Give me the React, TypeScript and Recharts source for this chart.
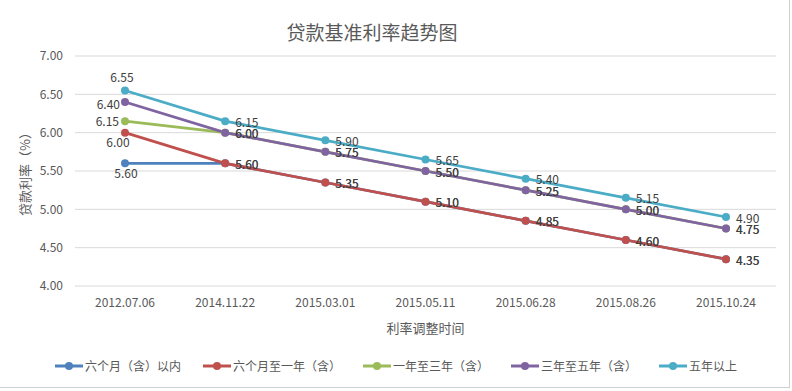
import React from "react";
import {
  LineChart,
  Line,
  XAxis,
  YAxis,
  CartesianGrid,
  Legend,
  LabelList,
} from "recharts";

const categories = [
  "2012.07.06",
  "2014.11.22",
  "2015.03.01",
  "2015.05.11",
  "2015.06.28",
  "2015.08.26",
  "2015.10.24",
];
const withinSixMonths = [5.6, 5.6, 5.35, 5.1, 4.85, 4.6, 4.35];
const sixMonthsToOneYear = [6.0, 5.6, 5.35, 5.1, 4.85, 4.6, 4.35];
const oneToThreeYears = [6.15, 6.0, 5.75, 5.5, 5.25, 5.0, 4.75];
const threeToFiveYears = [6.4, 6.0, 5.75, 5.5, 5.25, 5.0, 4.75];
const overFiveYears = [6.55, 6.15, 5.9, 5.65, 5.4, 5.15, 4.9];
const seriesNames = [
  "六个月（含）以内",
  "六个月至一年（含）",
  "一年至三年（含）",
  "三年至五年（含）",
  "五年以上",
];
const yTicks = [4.0, 4.5, 5.0, 5.5, 6.0, 6.5, 7.0];

const seriesValues = [
  withinSixMonths,
  sixMonthsToOneYear,
  oneToThreeYears,
  threeToFiveYears,
  overFiveYears,
];
const colors = ["#4F81BD", "#C0504D", "#9BBB59", "#8064A2", "#4BACC6"];
const FONT = "'Noto Sans CJK SC', 'Noto Sans', sans-serif";

const data = categories.map((date, i) => {
  const row: any = { date };
  seriesValues.forEach((vals, s) => {
    row["s" + s] = vals[i];
  });
  return row;
});

// first-point labels sit around the dot, the rest to the right
const firstLabel = [
  { dx: 1, dy: 9, anchor: "middle" },
  { dx: -7, dy: 9, anchor: "middle" },
  { dx: -6, dy: -1, anchor: "end" },
  { dx: -5, dy: 1, anchor: "end" },
  { dx: -3, dy: -14, anchor: "middle" },
];

const makeLabel = (s: number) => (props: any) => {
  const { x, y, value, index } = props;
  let dx = 10;
  let dy = 0;
  let anchor = "start";
  if (index === 0) {
    dx = firstLabel[s].dx;
    dy = firstLabel[s].dy;
    anchor = firstLabel[s].anchor;
  }
  return (
    <text
      x={x + dx}
      y={y + dy}
      textAnchor={anchor as any}
      dominantBaseline="central"
      fontSize={12}
      fontFamily={FONT}
      fill="#404040"
    >
      {Number(value).toFixed(2)}
    </text>
  );
};

const renderLegend = () => (
  <div
    style={{
      display: "flex",
      justifyContent: "center",
      gap: 22,
      fontFamily: FONT,
      fontSize: 12,
      color: "#595959",
    }}
  >
    {seriesNames.map((name, i) => (
      <div key={name} style={{ display: "flex", alignItems: "center" }}>
        <svg width={28} height={10} style={{ marginRight: 2 }}>
          <line x1={0} y1={5} x2={28} y2={5} stroke={colors[i]} strokeWidth={3} />
          <circle cx={14} cy={5} r={4} fill={colors[i]} />
        </svg>
        <span>{name}</span>
      </div>
    ))}
  </div>
);

export default function App() {
  return (
    <div
      style={{
        position: "absolute",
        left: 0,
        top: 0,
        width: 792,
        height: 391,
        background: "#fff",
      }}
    >
      <div
        style={{
          position: "absolute",
          left: 0,
          top: 0,
          width: 789,
          height: 387,
          borderRight: "1px solid #d0d0d0",
          borderBottom: "1px solid #d0d0d0",
        }}
      />
      <div
        style={{
          position: "absolute",
          left: 272,
          top: 19,
          width: 200,
          textAlign: "center",
          fontFamily: FONT,
          fontSize: 19,
          color: "#595959",
          lineHeight: "26px",
        }}
      >
        贷款基准利率趋势图
      </div>
      <LineChart
        width={792}
        height={391}
        data={data}
        margin={{ top: 56, right: 16, bottom: 55, left: 0 }}
      >
        <CartesianGrid vertical={false} stroke="#d9d9d9" />
        <XAxis
          dataKey="date"
          padding={{ left: 50, right: 50 }}
          axisLine={false}
          tickLine={false}
          tickSize={0}
          tickMargin={12}
          height={50}
          tick={{ fontSize: 12, fill: "#595959", fontFamily: FONT }}
          label={{
            value: "利率调整时间",
            position: "insideBottom",
            offset: 3,
            fontSize: 13,
            fill: "#595959",
            fontFamily: FONT,
          }}
        />
        <YAxis
          domain={[4, 7]}
          ticks={yTicks}
          width={75}
          axisLine={false}
          tickLine={false}
          tickSize={0}
          tickMargin={12}
          tickFormatter={(v: number) => v.toFixed(2)}
          tick={{ fontSize: 12, fill: "#595959", fontFamily: FONT }}
          label={{
            value: "贷款利率（%）",
            angle: -90,
            position: "insideLeft",
            offset: 25,
            fontSize: 13,
            fill: "#595959",
            fontFamily: FONT,
            style: { textAnchor: "middle" },
          }}
        />
        <Legend
          verticalAlign="middle"
          layout="horizontal"
          content={renderLegend}
          wrapperStyle={{ top: 357, left: 0, width: 792 }}
        />
        {seriesNames.map((name, s) => (
          <Line
            key={name}
            type="linear"
            dataKey={"s" + s}
            name={name}
            stroke={colors[s]}
            strokeWidth={2.75}
            dot={{ r: 4, fill: colors[s], stroke: colors[s], strokeWidth: 0 }}
            activeDot={false}
            isAnimationActive={false}
          >
            <LabelList dataKey={"s" + s} content={makeLabel(s)} />
          </Line>
        ))}
      </LineChart>
    </div>
  );
}
